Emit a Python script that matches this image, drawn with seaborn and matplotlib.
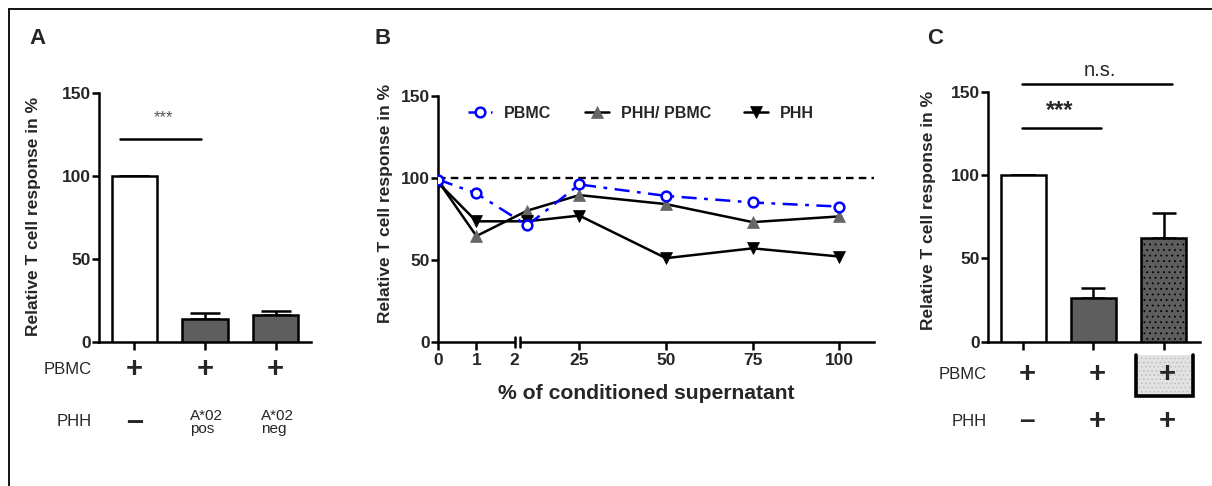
import numpy as np
import pandas as pd
import matplotlib
matplotlib.use("Agg")
import matplotlib.pyplot as plt
import matplotlib.transforms as mtransforms
from matplotlib.lines import Line2D
from matplotlib.patches import Rectangle
import seaborn as sns

# ---------------- data ----------------
# Panel A
a_cats = ["none", "A*02 pos", "A*02 neg"]
a_vals = [100, 14, 16]
a_err = [0, 3.5, 2.5]
# Panel B
b_x = [0, 1, 10, 25, 50, 75, 100]
b_ticks = [0, 1, 2, 25, 50, 75, 100]
b_pbmc = [99, 90.5, 71, 96, 89, 85, 82.5]
b_phh_pbmc = [98, 64.5, 80, 89.5, 84, 73, 76.5]
b_phh = [97, 73.5, 73.5, 77, 51, 57, 52]
# Panel C
c_cats = ["PBMC", "PBMC+PHH", "PBMC+PHH sup"]
c_vals = [100, 26.5, 62.5]
c_err = [0, 6, 15]

sns.set_style("ticks")
plt.rcParams["font.family"] = ["Liberation Sans", "DejaVu Sans"]
plt.rcParams["hatch.linewidth"] = 0.6

W, H = 1212, 486
fig = plt.figure(figsize=(W / 100, H / 100), dpi=100)


def px_axes(l, r, t, b):
    return fig.add_axes([l / W, 1 - b / H, (r - l) / W, (b - t) / H])


LW = 1.8
DARK = "#5e5e5e"
YLAB = "Relative T cell response in %"
YLS = 12.5


def style_axis(ax):
    sns.despine(ax=ax)
    for s in ("left", "bottom"):
        ax.spines[s].set_linewidth(LW)
        ax.spines[s].set_color("black")
    ax.tick_params(axis="both", direction="out", width=LW, color="black")
    ax.tick_params(axis="y", length=5, pad=1)
    ax.tick_params(axis="x", length=6)
    ax.set_ylim(0, 150)
    ax.set_yticks([0, 50, 100, 150])
    ax.set_yticklabels(["0", "50", "100", "150"], fontweight="bold", fontsize=12.5)


def frac_text(ax, x, yfrac, s, **kw):
    tr = ax.get_xaxis_transform()
    ax.text(x, yfrac, s, transform=tr, clip_on=False, ha="center", va="center", **kw)


# ---------------- Panel A ----------------
axA = px_axes(99, 311, 93.3, 341.7)
sns.barplot(x=a_cats, y=a_vals, hue=a_cats, palette=["white", DARK, DARK],
            legend=False, width=0.645, edgecolor="black", linewidth=1.8,
            errorbar=None, ax=axA, zorder=3)
axA.errorbar(x=np.arange(3), y=a_vals, yerr=[np.zeros(3), a_err], fmt="none",
             ecolor="black", elinewidth=1.8, capsize=10.5, capthick=1.8, zorder=2)
style_axis(axA)
axA.set_xlim(-0.5, 2.5)
axA.set_xticks([0, 1, 2])
axA.set_xticklabels([])
axA.set_xlabel("")
axA.set_ylabel(YLAB, fontweight="bold", fontsize=YLS)
axA.yaxis.set_label_coords(-0.311, 0.506)
axA.yaxis.label.set_va("center")
axA.plot([-0.2, 0.95], [122.4, 122.4], color="black", lw=1.8, clip_on=False)
axA.text(0.41, 135.5, "***", ha="center", va="center", fontsize=12, color="#555555")
# row annotations
fig.text(92 / W, 1 - 369.3 / H, "PBMC", ha="right", va="center", fontsize=12)
fig.text(92 / W, 1 - 421.7 / H, "PHH", ha="right", va="center", fontsize=12)
yr1 = (341.7 - 369.3) / 248.4
yr2 = (341.7 - 421.7) / 248.4
for i in range(3):
    frac_text(axA, i, yr1, "+", fontsize=21, fontweight="bold")
frac_text(axA, 0, yr2, "\u2013", fontsize=22, fontweight="bold")
frac_text(axA, 1.02, yr2 - 0.005, "A*02\npos", fontsize=11, linespacing=0.9,
          multialignment="left")
frac_text(axA, 2.02, yr2 - 0.005, "A*02\nneg", fontsize=11, linespacing=0.9,
          multialignment="left")

# ---------------- Panel B ----------------
axB = px_axes(438.3, 874, 96, 341.7)
S1, G0, G1, S2 = 38.1, 2.0, 7.9, 3.467


def fwd(x):
    x = np.asarray(x, dtype=float)
    return np.where(x <= G0, x * S1,
                    np.where(x < G1, G0 * S1 + (x - G0) * (5.5 / (G1 - G0)),
                             G0 * S1 + 5.5 + (x - G1) * S2))


def inv(p):
    p = np.asarray(p, dtype=float)
    p1 = G0 * S1
    p2 = p1 + 5.5
    return np.where(p <= p1, p / S1,
                    np.where(p < p2, G0 + (p - p1) * (G1 - G0) / 5.5,
                             G1 + (p - p2) / S2))


axB.set_xscale("function", functions=(fwd, inv))
axB.axhline(100, color="black", lw=1.7, ls=(0, (3.2, 2.2)), zorder=1)
sns.lineplot(x=b_x, y=b_phh_pbmc, ax=axB, color="black", lw=1.8, marker="^",
             markersize=8, markerfacecolor="#666666", markeredgecolor="#666666",
             markeredgewidth=0.5, errorbar=None, label="PHH/ PBMC", zorder=3)
sns.lineplot(x=b_x, y=b_phh, ax=axB, color="black", lw=1.8, marker="v",
             markersize=8, markerfacecolor="black", markeredgecolor="black",
             markeredgewidth=0.5, errorbar=None, label="PHH", zorder=3)
sns.lineplot(x=b_x, y=b_pbmc, ax=axB, color="#0000ff", lw=1.8,
             linestyle=(0, (6, 3, 1.5, 3)), marker="o", markersize=7,
             markerfacecolor="white", markeredgecolor="#0000ff",
             markeredgewidth=1.8, errorbar=None, label="PBMC", zorder=4)
style_axis(axB)
axB.set_xlim(0, 110)
axB.set_xticks(b_ticks)
axB.set_xticklabels([str(t) for t in b_ticks], fontweight="bold", fontsize=12.5)
axB.tick_params(axis="x", pad=2)
axB.xaxis.get_major_ticks()[2].tick1line.set_visible(False)
axB.set_xlabel("% of conditioned supernatant", fontweight="bold", fontsize=15.2)
axB.xaxis.set_label_coords(0.478, -0.209)
axB.xaxis.label.set_va("center")
axB.set_ylabel(YLAB, fontweight="bold", fontsize=YLS)
axB.yaxis.set_label_coords(-0.122, 0.564)
axB.yaxis.label.set_va("center")
# axis break
btr = axB.get_xaxis_transform()
axB.plot([G0, G1], [0, 0], color="white", lw=3.5, transform=btr, clip_on=False, zorder=6,
         solid_capstyle="butt")
for gx in (G0, G1):
    axB.plot([gx, gx], [-0.02, 0.018], color="black", lw=1.8, transform=btr,
             clip_on=False, zorder=7)
hs, ls_ = axB.get_legend_handles_labels()
order = [ls_.index(n) for n in ("PBMC", "PHH/ PBMC", "PHH")]
axB.legend([hs[i] for i in order], [ls_[i] for i in order], ncol=3, frameon=False,
           loc="center left", bbox_to_anchor=(0.068, 0.93), handlelength=1.5,
           handletextpad=0.75, columnspacing=2.1, prop={"weight": "bold", "size": 11.5},
           borderaxespad=0, borderpad=0)

# ---------------- Panel C ----------------
axC = px_axes(988.3, 1200, 91.7, 341.7)
sns.barplot(x=c_cats, y=c_vals, hue=c_cats, palette=["white", DARK, DARK],
            legend=False, width=0.645, edgecolor="black", linewidth=1.8,
            errorbar=None, ax=axC, zorder=3)
axC.patches[2].set_hatch("...")
axC.errorbar(x=np.arange(3), y=c_vals, yerr=[np.zeros(3), c_err], fmt="none",
             ecolor="black", elinewidth=1.8, capsize=8.3, capthick=1.8, zorder=2)
style_axis(axC)
axC.set_xlim(-0.5, 2.52)
axC.set_xticks([0, 1, 2])
axC.set_xticklabels([])
axC.set_xlabel("")
axC.set_ylabel(YLAB, fontweight="bold", fontsize=YLS)
axC.yaxis.set_label_coords(-0.283, 0.527)
axC.yaxis.label.set_va("center")
axC.plot([-0.02, 1.11], [128, 128], color="black", lw=1.8, clip_on=False)
axC.text(0.52, 138.5, "***", ha="center", va="center", fontsize=17, fontweight="bold")
axC.plot([-0.02, 2.12], [154.6, 154.6], color="black", lw=1.8, clip_on=False)
axC.text(1.09, 162.5, "n.s.", ha="center", va="center", fontsize=14.5, clip_on=False)
ctr = axC.get_xaxis_transform()
yb0 = (341.7 - 355) / 250
yb1 = (341.7 - 396) / 250
axC.add_patch(Rectangle((1.6, yb1), 0.82, yb0 - yb1, transform=ctr, clip_on=False,
                        facecolor="#e2e2e2", edgecolor="#bdbdbd", hatch="....",
                        linewidth=0, zorder=1))
axC.plot([1.6, 1.6, 2.42, 2.42], [yb0, yb1, yb1, yb0], color="black", lw=2.6,
         transform=ctr, clip_on=False, solid_joinstyle="miter", zorder=2)
fig.text(986.7 / W, 1 - 374.3 / H, "PBMC", ha="right", va="center", fontsize=12)
fig.text(986.7 / W, 1 - 421 / H, "PHH", ha="right", va="center", fontsize=12)
cy1 = (341.7 - 374.3) / 250
cy2 = (341.7 - 421) / 250
for i in range(3):
    frac_text(axC, i + 0.05, cy1, "+", fontsize=21, fontweight="bold", zorder=3)
frac_text(axC, 0.05, cy2, "\u2013", fontsize=20, fontweight="bold")
frac_text(axC, 1.05, cy2, "+", fontsize=21, fontweight="bold")
frac_text(axC, 2.05, cy2, "+", fontsize=21, fontweight="bold")

# ---------------- panel letters and frame ----------------
for lx, letter in ((37.5, "A"), (383, "B"), (935, "C")):
    fig.text(lx / W, 1 - 38.5 / H, letter, ha="center", va="center",
             fontsize=16, fontweight="bold")
fig.add_artist(Line2D([9 / W, 9 / W], [1 - 9 / H, -0.1], color="black", lw=1.3,
                      transform=fig.transFigure))
fig.add_artist(Line2D([9 / W, 1.1], [1 - 9 / H, 1 - 9 / H], color="black", lw=1.3,
                      transform=fig.transFigure))

fig.savefig("out.png", dpi=100)
